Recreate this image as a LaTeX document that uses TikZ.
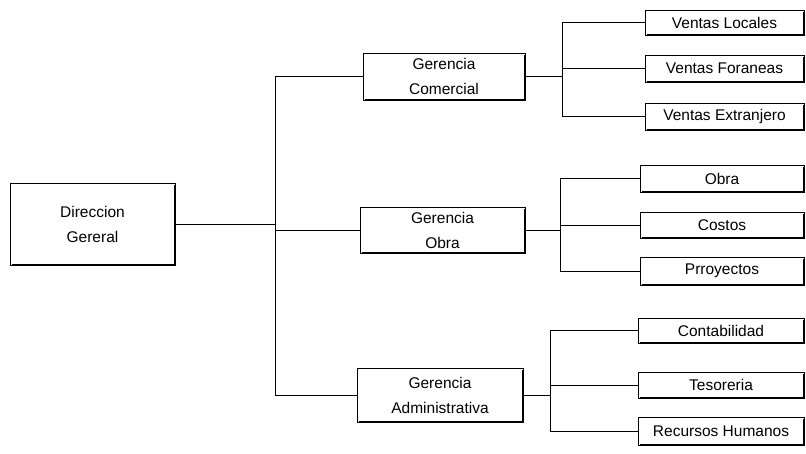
\documentclass[tikz,border=0pt]{standalone}
\usepackage{fontspec}
\setmainfont{Liberation Sans}
\begin{document}
\begin{tikzpicture}[x=1pt,y=-1pt,
  box/.style={draw, line width=0.8pt, rectangle, inner sep=0pt, align=center,
    font=\fontsize{15.5}{25}\selectfont},
  link/.style={draw, line width=0.7pt}]
\useasboundingbox (0,0) rectangle (806,453);

% top of the chart
\node[box, minimum width=165, minimum height=82] (dg) at (92.5,224) {Direccion\\Gereral};

% managers
\node[box, minimum width=162, minimum height=47] (gc) at (444,76.5) {Gerencia\\Comercial};
\node[box, minimum width=165, minimum height=46] (go) at (442.5,230) {Gerencia\\Obra};
\node[box, minimum width=166, minimum height=54] (ga) at (440,395) {Gerencia\\Administrativa};

% departments
\node[box, minimum width=159, minimum height=25] (vl) at (724.5,22.5) {Ventas Locales};
\node[box, minimum width=159, minimum height=27] (vf) at (724.5,68.5) {Ventas Foraneas};
\node[box, minimum width=159, minimum height=27] (ve) at (724.5,116.5) {Ventas Extranjero};
\node[box, minimum width=164, minimum height=27] (ob) at (722,178.5) {Obra};
\node[box, minimum width=164, minimum height=26] (co) at (722,225) {Costos};
\node[box, minimum width=164, minimum height=28] (pr) at (722,271) {Prroyectos};
\node[box, minimum width=166, minimum height=25] (ct) at (721,330.5) {Contabilidad};
\node[box, minimum width=166, minimum height=26] (te) at (721,385) {Tesoreria};
\node[box, minimum width=166, minimum height=28] (rh) at (721,431) {Recursos Humanos};

% heavier right and bottom edges
\foreach \n in {dg,gc,go,ga,vl,vf,ve,ob,co,pr,ct,te,rh}
  \draw[line width=2pt, line cap=rect] ([yshift=-3pt]\n.north east) -- (\n.south east) -- ([xshift=3pt]\n.south west);

% trunk lines
\coordinate (t) at (275,0);
\coordinate (tc) at (562,0);
\coordinate (to) at (560,0);
\coordinate (ta) at (550,0);

\draw[link] (dg.east) -- (dg.east -| t);
\draw[link] (gc.west) -- (gc.west -| t) -- (ga.west -| t) -- (ga.west);
\draw[link] (go.west) -- (go.west -| t);

\draw[link] (gc.east) -- (gc.east -| tc);
\draw[link] (vl.west) -- (vl.west -| tc) -- (ve.west -| tc) -- (ve.west);
\draw[link] (vf.west) -- (vf.west -| tc);

\draw[link] (go.east) -- (go.east -| to);
\draw[link] (ob.west) -- (ob.west -| to) -- (pr.west -| to) -- (pr.west);
\draw[link] (co.west) -- (co.west -| to);

\draw[link] (ga.east) -- (ga.east -| ta);
\draw[link] (ct.west) -- (ct.west -| ta) -- (rh.west -| ta) -- (rh.west);
\draw[link] (te.west) -- (te.west -| ta);
\end{tikzpicture}
\end{document}
